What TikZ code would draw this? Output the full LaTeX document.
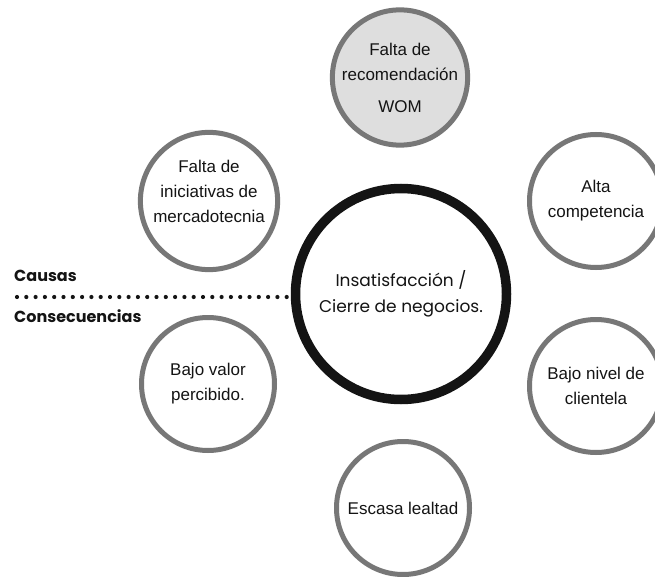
\documentclass[tikz,border=0pt]{standalone}
\usepackage{fontspec}
\setmainfont{Liberation Sans}
\newfontfamily\popfont{Poppins}
\usetikzlibrary{backgrounds}
\definecolor{ringgray}{HTML}{777777}
\definecolor{linkgray}{HTML}{DADADA}
\definecolor{wombg}{HTML}{DEDEDE}
\definecolor{inkdark}{HTML}{141414}
\tikzset{
  hub/.style={circle, draw=inkdark, line width=9.5pt, fill=white,
    minimum size=211pt, inner sep=0pt, align=center, text=inkdark,
    font=\popfont\fontsize{17}{26}\selectfont},
  sat/.style={circle, draw=ringgray, line width=5pt, fill=white,
    minimum size=133pt, inner sep=0pt, align=center, text=inkdark,
    font=\fontsize{17}{25}\selectfont},
  link/.style={draw=linkgray, line width=4pt},
  sidelabel/.style={anchor=west, inner sep=0pt, text=inkdark,
    font=\popfont\bfseries\fontsize{16}{18}\selectfont},
  dotrule/.style={draw=inkdark, line width=4.2pt, line cap=round,
    dash pattern=on 0pt off 9.3pt}
}
\begin{document}
\begin{tikzpicture}[x=1pt,y=-1pt]
  \useasboundingbox (0,0) rectangle (655,577);
  \clip (0,0) rectangle (655,577);
  \fill[white] (0,0) rectangle (655,577);

  % central problem
  \node[hub] (hub) at (401,294) {Insatisfacción /\\Cierre de negocios.};

  % causes and consequences around it
  \node[sat, fill=wombg] (wom) at (400,77.5)
    {Falta de\\recomendación\\[7pt]WOM};
  \node[sat] (mkt) at (209,201)
    {Falta de\\iniciativas de\\mercadotecnia\\[-14pt]\strut};
  \node[sat] (comp) at (596,201) {Alta\\competencia};
  \node[sat] (valor) at (208,384) {Bajo valor\\percibido.};
  \node[sat] (clien) at (596,386) {Bajo nivel de\\clientela};
  \node[sat] (leal) at (403,508) {Escasa lealtad};

  \begin{scope}[on background layer]
    \foreach \s in {wom,mkt,comp,valor,clien,leal}
      \draw[link] (hub.center) -- (\s.center);
  \end{scope}

  % divider between causes and consequences
  \node[sidelabel] (causas) at (14,276) {Causas};
  \node[sidelabel] (conse) at (14,316) {Consecuencias};
  \coordinate (ruleL) at (17,297);
  \draw[dotrule] (ruleL) -- (hub.west |- ruleL);
\end{tikzpicture}
\end{document}
